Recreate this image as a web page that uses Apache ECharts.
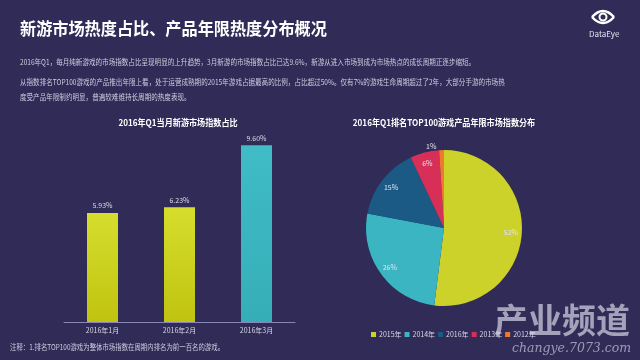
<!DOCTYPE html>
<html><head><meta charset="utf-8">
<script src="https://cdn.jsdelivr.net/npm/echarts@6/dist/echarts.min.js"></script>
<style>html,body{margin:0;padding:0;background:#302b57;}#c{width:640px;height:360px;}</style>
</head><body><div id="c"></div>
<script>
var barCategories = ['2016年1月', '2016年2月', '2016年3月'];
var barValues = [5.93, 6.23, 9.60];
var pieNames = ['2015年', '2014年', '2016年', '2013年', '2012年'];
var pieValues = [52, 26, 15, 6, 1];
var pieColors = ['#cdd22a', '#3cb5c3', '#1c5a86', '#d82f58', '#ef7a2e'];

var FONT = '"Noto Sans CJK SC", "Noto Sans", sans-serif';
var chart = echarts.init(document.getElementById('c'));

var yellowGrad = new echarts.graphic.LinearGradient(0, 0, 0, 1, [
  {offset: 0, color: '#d6dd2c'}, {offset: 1, color: '#c0c410'}]);
var tealGrad = new echarts.graphic.LinearGradient(0, 0, 0, 1, [
  {offset: 0, color: '#3fbcc6'}, {offset: 1, color: '#36aeb8'}]);

var pieLabelData = pieNames.map(function (n, i) {
  var d = {name: n, value: pieValues[i]};
  if (i === 4) {
    d.label = {position: 'outside'};
    d.labelLine = {show: false, length: 4, length2: 0};
  }
  return d;
});

function txt(x, y, s, font, fill, sx, align) {
  return {type: 'text', x: x, y: y, scaleX: sx || 1, silent: true,
    style: {text: s, fill: fill, font: font, verticalAlign: 'middle', align: align || 'left'}};
}
var P = '8px ' + FONT, PC = '#cfcde0', SX = 0.82;

chart.setOption({
  backgroundColor: '#302b57',
  textStyle: {fontFamily: FONT},
  graphic: [
    txt(20, 29, '新游市场热度占比、产品年限热度分布概况', 'bold 17px ' + FONT, '#ffffff', 0.95),
    txt(178, 123, '2016年Q1当月新游市场指数占比', 'bold 9px ' + FONT, '#ffffff', 0.9, 'center'),
    txt(444, 123, '2016年Q1排名TOP100游戏产品年限市场指数分布', 'bold 9px ' + FONT, '#ffffff', 0.9, 'center'),
    txt(20, 62, '2016年Q1，每月纯新游戏的市场指数占比呈现明显的上升趋势，3月新游的市场指数占比已达9.6%，新游从进入市场到成为市场热点的成长周期正逐步缩短。', P, PC, SX),
    txt(20, 82, '从指数排名TOP100游戏的产品推出年限上看，处于运营成熟期的2015年游戏占据最高的比例，占比超过50%。仅有7%的游戏生命周期超过了2年，大部分手游的市场热', P, PC, SX),
    txt(20, 97, '度受产品年限制约明显，普遍较难维持长周期的热度表现。', P, PC, SX),
    txt(10, 347, '注释：1.排名TOP100游戏为整体市场指数在周期内排名为前一百名的游戏。', P, PC, 0.8),
    {type: 'bezierCurve', silent: true, shape: {x1: 592, y1: 17, x2: 614, y2: 17, cpx1: 603, cpy1: 5}, style: {fill: 'none', stroke: '#ffffff', lineWidth: 2.5}},
    {type: 'bezierCurve', silent: true, shape: {x1: 592, y1: 17, x2: 614, y2: 17, cpx1: 603, cpy1: 29}, style: {fill: 'none', stroke: '#ffffff', lineWidth: 2.5}},
    {type: 'circle', silent: true, shape: {cx: 603, cy: 17, r: 3.5}, style: {fill: 'none', stroke: '#ffffff', lineWidth: 2}},
    txt(589, 34, 'DataEye', '8px ' + FONT, '#e8e6f2'),
    txt(494, 320, '产业频道', 'bold 34px ' + FONT, 'rgba(185,183,205,0.85)'),
    txt(512, 349, 'changye.7073.com', 'italic 12.5px "DejaVu Serif", serif', 'rgba(185,183,205,0.8)')
  ],
  legend: {
    data: pieNames, left: 366, top: 326, orient: 'horizontal',
    itemWidth: 5, itemHeight: 5, itemGap: 3, icon: 'rect',
    textStyle: {color: '#d8d6e6', fontSize: 7, fontFamily: FONT, padding: [0, 0, 0, -2]}
  },
  grid: {left: 64, right: 345, top: 138, bottom: 38},
  xAxis: {
    type: 'category', data: barCategories,
    axisLine: {lineStyle: {color: '#8a86b8', width: 1}},
    axisTick: {show: false},
    axisLabel: {color: '#d8d6e6', fontSize: 7, margin: 5, fontFamily: FONT}
  },
  yAxis: {type: 'value', min: 0, max: 10, show: false, splitLine: {show: false}},
  series: [
    {
      type: 'bar', barWidth: 31,
      data: barValues.map(function (v, i) {
        return {value: v, itemStyle: {color: i === 2 ? tealGrad : yellowGrad}};
      }),
      label: {show: true, position: 'top', distance: 4, color: '#dedcea', fontSize: 7, fontFamily: FONT,
        formatter: function (p) { return p.value.toFixed(2) + '%'; }}
    },
    {
      type: 'pie', center: [444, 228], radius: [0, 78], startAngle: 90, clockwise: true,
      color: pieColors, silent: true,
      data: pieNames.map(function (n, i) { return {name: n, value: pieValues[i]}; }),
      label: {show: false}, labelLine: {show: false},
      itemStyle: {borderWidth: 0}
    },
    {
      type: 'pie', center: [444, 228], radius: [50, 78], startAngle: 90, clockwise: true,
      silent: true, legendHoverLink: false,
      itemStyle: {color: 'rgba(0,0,0,0)'},
      data: pieLabelData,
      label: {show: true, position: 'inside', color: '#e4e2ee', fontSize: 7, fontFamily: FONT,
        formatter: '{c}%'},
      labelLine: {show: false}
    }
  ]
});
</script></body></html>
